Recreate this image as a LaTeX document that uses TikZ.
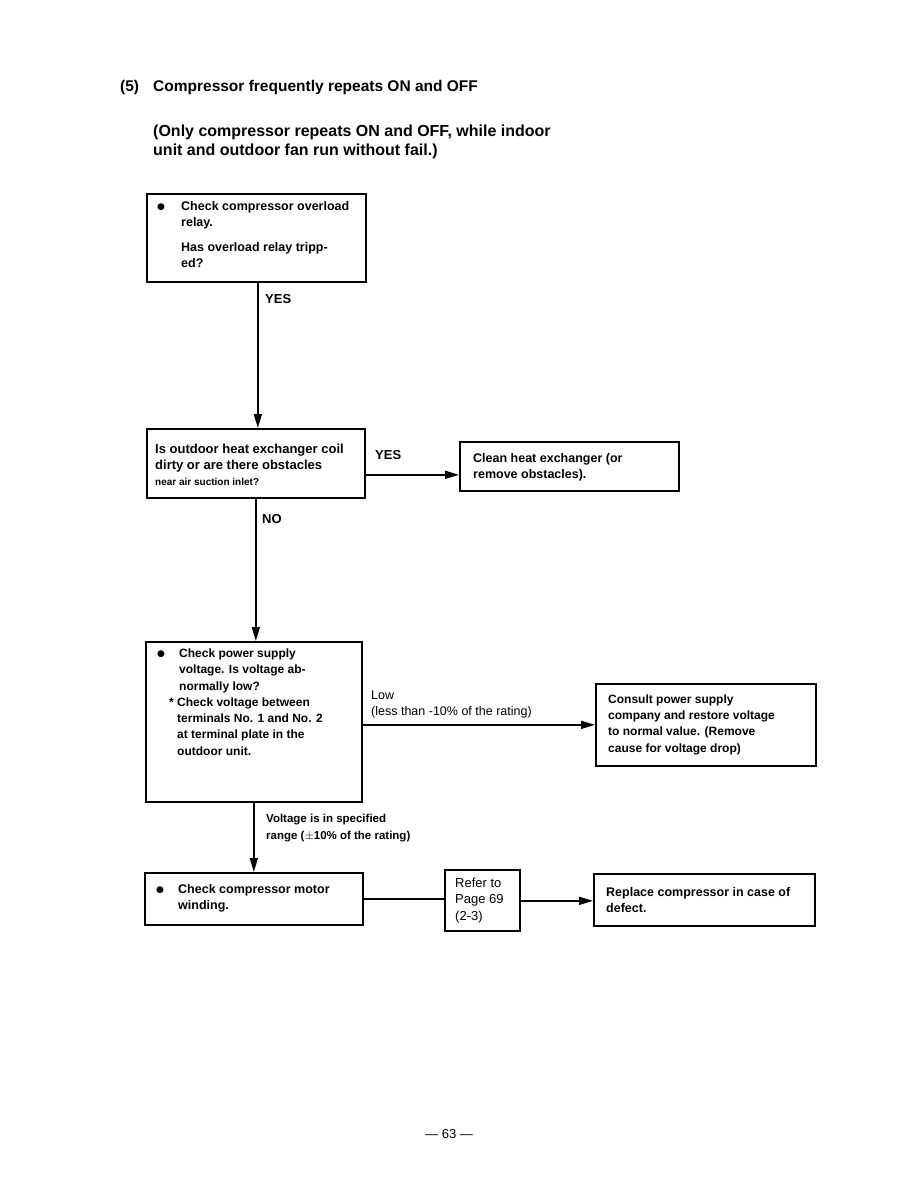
\documentclass[tikz,border=0pt]{standalone}
\usepackage{fontspec}
\setmainfont{Liberation Sans}
\newfontfamily\dejavu{DejaVu Sans}
\usetikzlibrary{arrows.meta,calc}
\newcommand{\bul}{{\dejavu\fontsize{9}{9}\selectfont ●}}
\tikzset{
  rect/.style={draw, line width=1.7pt, inner sep=0pt, anchor=north west},
  txt/.style={anchor=north west, inner sep=0pt, align=left, font=\bfseries\fontsize{12.5}{16.5}\selectfont},
  lbl/.style={anchor=base west, inner sep=0pt, align=left},
  arr/.style={line width=1.6pt, -{Triangle[length=14pt,width=8pt]}},
  ln/.style={line width=1.6pt}
}
\begin{document}
\begin{tikzpicture}[x=1pt,y=-1pt]
\useasboundingbox[fill=white] (0,0) rectangle (918,1188);
% title
\node[lbl, font=\bfseries\fontsize{15.5}{18}\selectfont] (t0) at (120,92) {(5)};
\node[lbl, font=\bfseries\fontsize{15.5}{18}\selectfont] (t1) at (153,92) {Compressor frequently repeats ON and OFF};
\node[lbl, font=\bfseries\fontsize{16}{19}\selectfont] (t2) at (153,136) {(Only compressor repeats ON and OFF, while indoor};
\node[lbl, font=\bfseries\fontsize{16}{19}\selectfont] (t3) at (153,155) {unit and outdoor fan run without fail.)};
% boxes
\node[rect, minimum width=219pt, minimum height=88pt] (b1) at (146,193) {};
\node[rect, minimum width=218pt, minimum height=69pt] (b2) at (146,428) {};
\node[rect, minimum width=219pt, minimum height=49pt] (b3) at (459,441) {};
\node[rect, minimum width=216pt, minimum height=160pt] (b4) at (145,641) {};
\node[rect, minimum width=220pt, minimum height=82pt] (b5) at (595,683) {};
\node[rect, minimum width=218pt, minimum height=52pt] (b6) at (144,872) {};
\node[rect, minimum width=75pt, minimum height=61pt] (b7) at (444,869) {};
\node[rect, minimum width=221pt, minimum height=52pt] (b8) at (593,873) {};
% box texts
\node[lbl] (d1) at (157,209) {\bul};
\node[txt] (x1a) at (181,201) {Check compressor overload\\relay.};
\node[txt] (x1b) at (181,242) {Has overload relay tripp-\\ed?};
\node[txt, font=\bfseries\fontsize{13}{16}\selectfont] (x2) at (155,443.5) {Is outdoor heat exchanger coil\\dirty or are there obstacles};
\node[lbl, font=\bfseries\fontsize{10}{12}\selectfont] (x2b) at (155,485) {near air suction inlet?};
\node[txt] (x3) at (473,453) {Clean heat exchanger (or\\remove obstacles).};
\node[lbl] (d4) at (157,656) {\bul};
\node[txt, font=\bfseries\fontsize{12}{16.5}\selectfont] (x4a) at (179,648.3) {Check power supply\\voltage. Is voltage ab-\\normally low?};
\node[lbl, font=\bfseries\fontsize{12}{16}\selectfont] (x4s) at (169,706) {*};
\node[txt, font=\bfseries\fontsize{12}{16.3}\selectfont] (x4b) at (177,697.3) {Check voltage between\\terminals No. 1 and No. 2\\at terminal plate in the\\outdoor unit.};
\node[txt, font=\bfseries\fontsize{12}{16.3}\selectfont] (x5) at (608,694.3) {Consult power supply\\company and restore voltage\\to normal value. (Remove\\cause for voltage drop)};
\node[lbl] (d6) at (156,892) {\bul};
\node[txt] (x6) at (178,884) {Check compressor motor\\winding.};
\node[txt, font=\fontsize{13}{16.5}\selectfont] (x7) at (455,877.5) {Refer to\\Page 69\\(2-3)};
\node[txt] (x8) at (606,887) {Replace compressor in case of\\defect.};
% connector labels
\node[lbl, font=\bfseries\fontsize{13}{16}\selectfont] (l1) at (265,303) {YES};
\node[lbl, font=\bfseries\fontsize{13}{16}\selectfont] (l2) at (375,459) {YES};
\node[lbl, font=\bfseries\fontsize{13}{16}\selectfont] (l3) at (262,523) {NO};
\node[txt, font=\fontsize{12.5}{16}\selectfont] (l4) at (371,691) {Low\\(less than -10\% of the rating)};
\node[txt, font=\bfseries\fontsize{11.5}{17}\selectfont] (l5) at (266,813.7) {Voltage is in specified\\range ($\pm$10\% of the rating)};
\node[lbl, font=\fontsize{13}{16}\selectfont] (pg) at (425,1138) {--- 63 ---};
% connectors
\draw[arr] (b1.south) ++(1.5,0) coordinate (p1) -- (p1 |- b2.north);
\draw[arr] (b2.east) ++(0,11.5) coordinate (p2) -- (p2 -| b3.west);
\draw[arr] (b2.south) -- (b2.south |- b4.north);
\draw[arr] (b4.east |- b5.west) -- (b5.west);
\draw[arr] (b4.south) -- (b4.south |- b6.north);
\draw[ln] (b6.east) -- (b6.east -| b7.west);
\draw[arr] (b7.east) ++(0,0.5) coordinate (p7) -- (p7 -| b8.west);
\end{tikzpicture}
\end{document}
